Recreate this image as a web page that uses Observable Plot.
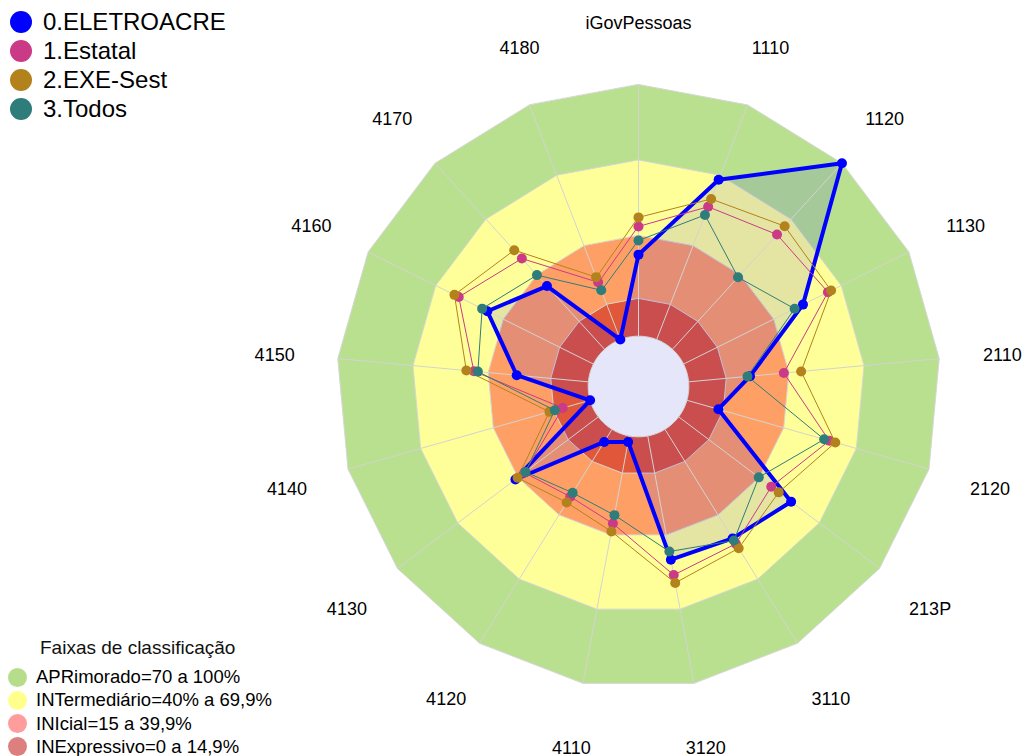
<!DOCTYPE html>
<html><head><meta charset="utf-8">
<script src="https://cdn.jsdelivr.net/npm/d3@7"></script>
<script src="https://cdn.jsdelivr.net/npm/@observablehq/plot@0.6"></script>
<style>
body{margin:0;background:#fff;font-family:Arial,"Liberation Sans",sans-serif;}
#wrap{position:relative;width:1025px;height:756px;overflow:hidden;background:#fff;}
#chart{position:absolute;left:0;top:0;}
.row{position:absolute;left:0;display:flex;align-items:center;white-space:nowrap;color:#000;}
.dotc{display:inline-block;border-radius:50%;flex:none;}
#bandTitle{position:absolute;white-space:nowrap;color:#111;}
</style></head><body>
<div id="wrap"><div id="chart"></div><div id="legends"></div></div>
<script>
// ---- data ----
const axes = ["iGovPessoas","1110","1120","1130","2110","2120","213P","3110","3120","4110","4120","4130","4140","4150","4160","4170","4180"];
const seriesNames = ["0.ELETROACRE","1.Estatal","2.EXE-Sest","3.Todos"];
const seriesColors = ["#0000ff","#cb3a86","#b3821c","#2f7d7a"];
const eletroacre = [32.4,68.1,100,53,24.5,13,56,51,50,2.4,5.9,41.3,0,28.6,47.1,34,0];
const estatal    = [43.6,56.6,61.7,64.1,38,58.8,46.1,53.5,56.2,35.4,31.5,36.8,11.3,45.7,59.8,48.8,24.4];
const exeSest    = [47.2,59.9,66.2,65.5,44.9,61.3,49.8,55.6,59.4,38.6,34.2,40.2,16.8,48.7,61.7,53.3,26.6];
const todos      = [38,53.1,38.7,49.3,23.5,56.7,39.9,52,46.7,32,29.7,36.3,14.6,44.1,49.4,39.9,21];
const bandTitle = "Faixas de classificação";
const bandNames = ["APRimorado=70 a 100%","INTermediário=40% a 69,9%","INIcial=15 a 39,9%","INExpressivo=0 a 14,9%"];
const bandLimits = [100,70,40,15];
const bandColors = ["#b9e08f","#ffff99","#fea066","#e1573a"];
const bandLegendColors = ["#b5dd8a","#ffff8c","#ff9c9c","#dd7f7f"];
const holeColor = "#e6e6fa";
const axisMin = -20, axisMax = 100;

// ---- geometry helpers ----
const n = axes.length;
const ang = i => 2*Math.PI*i/n;
const rn = v => (v-axisMin)/(axisMax-axisMin);
const px = (v,i) => rn(v)*Math.sin(ang(i));
const py = (v,i) => rn(v)*Math.cos(ang(i));
const allSeries = [eletroacre,estatal,exeSest,todos];

const idx = d3.range(n);
const bandMarks = bandLimits.map((lim,k) => Plot.line(idx, {
  x: i => px(lim,i), y: i => py(lim,i), curve: "linear-closed",
  fill: bandColors[k], stroke: "#d6d6d6", strokeWidth: 1
}));
const circ = d3.range(180);
const holeMark = Plot.line(circ, {
  x: j => rn(0)*Math.sin(2*Math.PI*j/180), y: j => rn(0)*Math.cos(2*Math.PI*j/180),
  curve: "linear-closed", fill: holeColor, stroke: "#d6d6d6", strokeWidth: 1
});
const spokes = Plot.link(idx, {
  x1: i => px(0,i), y1: i => py(0,i), x2: i => px(axisMax,i), y2: i => py(axisMax,i),
  stroke: "#d3d3d3", strokeWidth: 1
});
const blueFill = Plot.line(idx, {
  x: i => px(eletroacre[i],i), y: i => py(eletroacre[i],i), curve: "linear-closed",
  fill: seriesColors[0], fillOpacity: 0.1, stroke: "none"
});
const seriesMarks = allSeries.flatMap((vals,s) => [
  Plot.line(idx, {x: i => px(vals[i],i), y: i => py(vals[i],i), curve: "linear-closed",
    stroke: seriesColors[s], strokeWidth: s===0 ? 4 : 1, fill: "none"}),
  Plot.dot(idx, {x: i => px(vals[i],i), y: i => py(vals[i],i), r: 5,
    fill: seriesColors[s], stroke: "none"})
]);
const labelR = 1.21;
const labelOpts = (filter, dx) => ({
  x: (d,i) => labelR*Math.sin(ang(axes.indexOf(d))), y: (d,i) => labelR*Math.cos(ang(axes.indexOf(d))),
  text: d => d, fontSize: 18, fill: "#000", textAnchor: "middle", dy: 2.5, dx
});
const labels = Plot.text(axes.filter((d,i) => i !== n-1), labelOpts(null, 0));
const lastLabel = Plot.text(axes.filter((d,i) => i === n-1), labelOpts(null, 13));

// center (638,386), radius 302 px
const W = 1025, H = 756, CX = 638, CY = 386, R = 302;
const chart = Plot.plot({
  width: W, height: H, margin: 0,
  style: {background: "#fff", fontFamily: "Arial, 'Liberation Sans', sans-serif"},
  x: {domain: [-CX/R, (W-CX)/R], range: [0, W], axis: null},
  y: {domain: [-(H-CY)/R, CY/R], range: [H, 0], axis: null},
  marks: [...bandMarks, blueFill, holeMark, spokes, ...seriesMarks, labels, lastLabel]
});
document.getElementById("chart").appendChild(chart);

// ---- legends ----
const leg = document.getElementById("legends");
seriesNames.forEach((name,k) => {
  const row = document.createElement("div");
  row.className = "row";
  row.style.top = (22 + 29*k - 14) + "px";
  row.style.height = "28px";
  row.style.left = "10px";
  row.style.fontSize = "24px";
  row.innerHTML = `<span class="dotc" style="width:22px;height:22px;background:${seriesColors[k]};margin-right:11px"></span><span>${name}</span>`;
  leg.appendChild(row);
});
const t = document.createElement("div");
t.id = "bandTitle";
t.style.left = "40px"; t.style.top = "637px"; t.style.fontSize = "19px";
t.textContent = bandTitle;
leg.appendChild(t);
bandNames.forEach((name,k) => {
  const row = document.createElement("div");
  row.className = "row";
  row.style.top = (677 + 23.3*k - 12) + "px";
  row.style.height = "24px";
  row.style.left = "8px";
  row.style.fontSize = "18.5px";
  row.innerHTML = `<span class="dotc" style="width:19px;height:19px;background:${bandLegendColors[k]};margin-right:9px"></span><span>${name}</span>`;
  leg.appendChild(row);
});
</script>
</body></html>
